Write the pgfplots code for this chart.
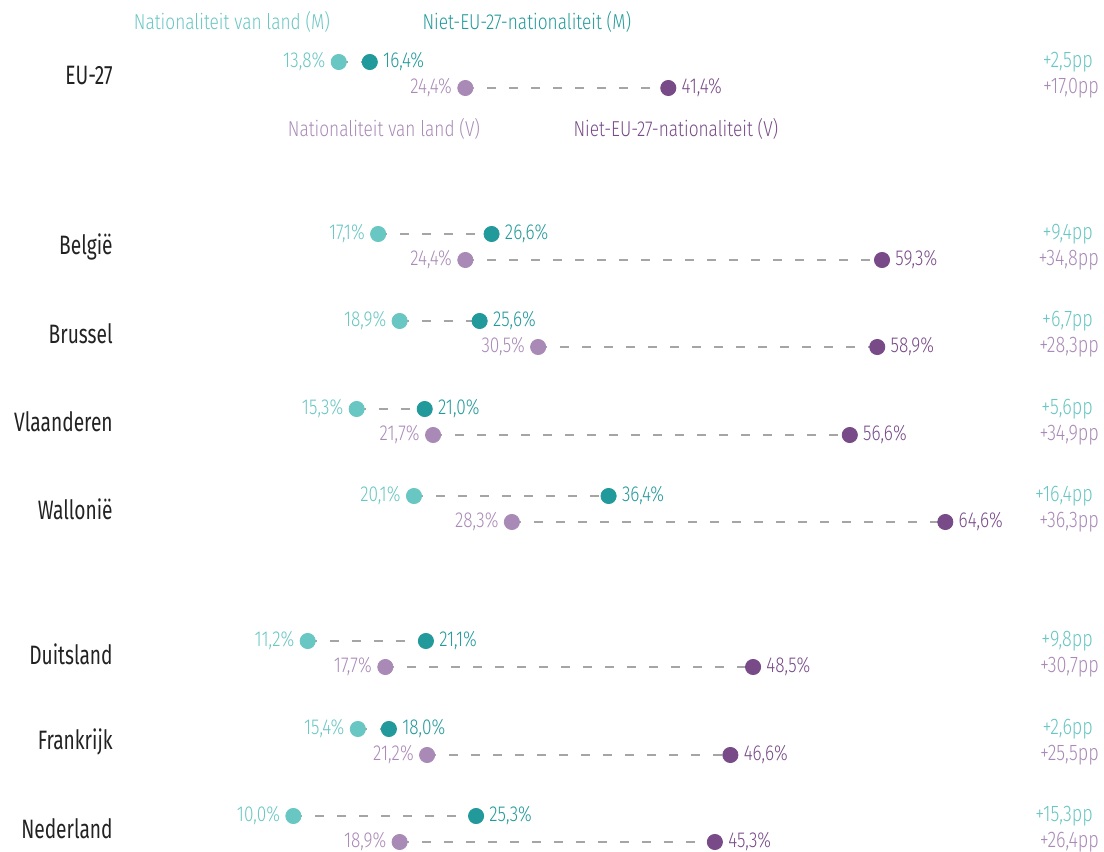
\documentclass[border=0pt]{standalone}
\usepackage{fontspec}
\setmainfont{Fira Sans Light}[FakeStretch=0.8]
\newfontfamily\ctyfont{Fira Sans}[FakeStretch=0.72]
\usepackage{pgfplots}
\usepackage{pgfplotstable}
\pgfplotsset{compat=1.18}
\definecolor{lteal}{HTML}{68C6C3}
\definecolor{dteal}{HTML}{22999A}
\definecolor{lpurp}{HTML}{A98AB7}
\definecolor{dpurp}{HTML}{784A88}
\definecolor{dashgray}{HTML}{A5A5A5}
\definecolor{txt}{HTML}{222222}
\tikzset{lbl/.style={font=\fontsize{10.8}{11}\selectfont, inner sep=0pt},
  cty/.style={anchor=east, inner sep=0pt, text=txt, font=\ctyfont\fontsize{13.3}{14}\selectfont},
  dm/.style={anchor=east, inner sep=0pt, font=\fontsize{11.3}{12}\selectfont, text=lteal},
  dv/.style={anchor=east, inner sep=0pt, font=\fontsize{11.3}{12}\selectfont, text=lpurp}}

\pgfplotstableread{
y lo hi lolab hilab
62 13.8 16.4 13,8 16,4
234 17.1 26.6 17,1 26,6
321 18.9 25.6 18,9 25,6
409 15.3 21.0 15,3 21,0
496 20.1 36.4 20,1 36,4
641 11.2 21.1 11,2 21,1
729 15.4 18.0 15,4 18,0
816 10.0 25.3 10,0 25,3
}\tblM
\pgfplotstableread{
y lo hi lolab hilab
88 24.4 41.4 24,4 41,4
260 24.4 59.3 24,4 59,3
347 30.5 58.9 30,5 58,9
435 21.7 56.6 21,7 56,6
522 28.3 64.6 28,3 64,6
667 17.7 48.5 17,7 48,5
755 21.2 46.6 21,2 46,6
842 18.9 45.3 18,9 45,3
}\tblV

\begin{document}
\begin{tikzpicture}
\begin{axis}[
  width=552pt, height=426pt, scale only axis,
  xmin=-14.57, xmax=77.89, ymin=0, ymax=852, y dir=reverse,
  hide axis, clip=false,
  unbounded coords=jump,
]
\path (axis cs:-14.57,0) rectangle (axis cs:77.89,852);
% dashed connectors
\addplot[dashgray, line width=0.6pt, dash pattern=on 4.5pt off 6.5pt] coordinates {
(13.8,62) (16.4,62) (nan,nan)
(17.1,234) (26.6,234) (nan,nan)
(18.9,321) (25.6,321) (nan,nan)
(15.3,409) (21.0,409) (nan,nan)
(20.1,496) (36.4,496) (nan,nan)
(11.2,641) (21.1,641) (nan,nan)
(15.4,729) (18.0,729) (nan,nan)
(10.0,816) (25.3,816) (nan,nan)
(24.4,88) (41.4,88) (nan,nan)
(24.4,260) (59.3,260) (nan,nan)
(30.5,347) (58.9,347) (nan,nan)
(21.7,435) (56.6,435) (nan,nan)
(28.3,522) (64.6,522) (nan,nan)
(17.7,667) (48.5,667) (nan,nan)
(21.2,755) (46.6,755) (nan,nan)
(18.9,842) (45.3,842)
};
% dots
\addplot[only marks, mark=*, mark size=3.8pt, color=lteal, point meta=explicit symbolic,
  nodes near coords={\pgfplotspointmeta\%},
  nodes near coords style={anchor=east, xshift=-6.5pt, lbl, text=lteal}]
  table[x=lo, y=y, meta=lolab]{\tblM};
\addplot[only marks, mark=*, mark size=3.8pt, color=dteal, point meta=explicit symbolic,
  nodes near coords={\pgfplotspointmeta\%},
  nodes near coords style={anchor=west, xshift=6.5pt, lbl, text=dteal}]
  table[x=hi, y=y, meta=hilab]{\tblM};
\addplot[only marks, mark=*, mark size=3.8pt, color=lpurp, point meta=explicit symbolic,
  nodes near coords={\pgfplotspointmeta\%},
  nodes near coords style={anchor=east, xshift=-6.5pt, lbl, text=lpurp}]
  table[x=lo, y=y, meta=lolab]{\tblV};
\addplot[only marks, mark=*, mark size=3.8pt, color=dpurp, point meta=explicit symbolic,
  nodes near coords={\pgfplotspointmeta\%},
  nodes near coords style={anchor=west, xshift=6.5pt, lbl, text=dpurp}]
  table[x=hi, y=y, meta=hilab]{\tblV};
% legend labels
\node[lbl, text=lteal] at (axis cs:4.86,22) {Nationaliteit van land (M)};
\node[lbl, text=dteal] at (axis cs:29.56,22) {Niet-EU-27-nationaliteit (M)};
\node[lbl, text=lpurp] at (axis cs:17.59,129) {Nationaliteit van land (V)};
\node[lbl, text=dpurp] at (axis cs:42.04,129) {Niet-EU-27-nationaliteit (V)};
% country names
\node[cty] at (axis cs:-5.1,75) {EU-27};
\node[cty] at (axis cs:-5.1,247) {België};
\node[cty] at (axis cs:-5.1,334) {Brussel};
\node[cty] at (axis cs:-5.1,422) {Vlaanderen};
\node[cty] at (axis cs:-5.1,509) {Wallonië};
\node[cty] at (axis cs:-5.1,654) {Duitsland};
\node[cty] at (axis cs:-5.1,742) {Frankrijk};
\node[cty] at (axis cs:-5.1,829) {Nederland};
% differences
\node[dm] at (axis cs:77.0,62) {+2,5pp};
\node[dm] at (axis cs:77.0,234) {+9,4pp};
\node[dm] at (axis cs:77.0,321) {+6,7pp};
\node[dm] at (axis cs:77.0,409) {+5,6pp};
\node[dm] at (axis cs:77.0,496) {+16,4pp};
\node[dm] at (axis cs:77.0,641) {+9,8pp};
\node[dm] at (axis cs:77.0,729) {+2,6pp};
\node[dm] at (axis cs:77.0,816) {+15,3pp};
\node[dv] at (axis cs:77.5,88) {+17,0pp};
\node[dv] at (axis cs:77.5,260) {+34,8pp};
\node[dv] at (axis cs:77.5,347) {+28,3pp};
\node[dv] at (axis cs:77.5,435) {+34,9pp};
\node[dv] at (axis cs:77.5,522) {+36,3pp};
\node[dv] at (axis cs:77.5,667) {+30,7pp};
\node[dv] at (axis cs:77.5,755) {+25,5pp};
\node[dv] at (axis cs:77.5,842) {+26,4pp};
\end{axis}
\end{tikzpicture}
\end{document}
